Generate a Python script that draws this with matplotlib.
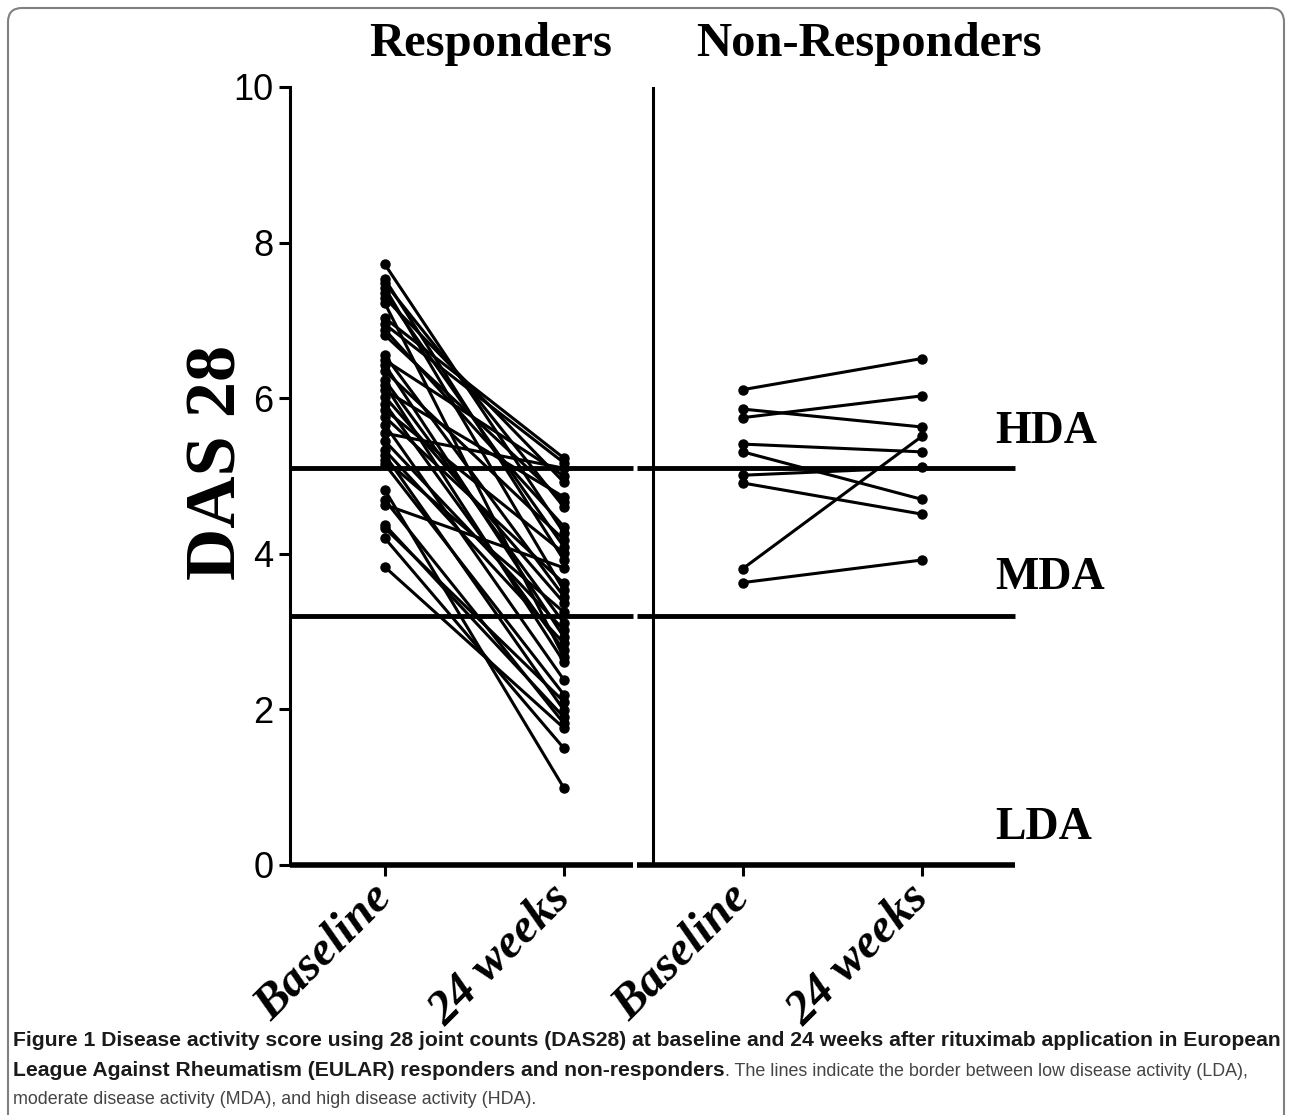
import matplotlib
matplotlib.use("Agg")
import matplotlib.pyplot as plt
from matplotlib.patches import FancyBboxPatch

# DAS28 values, responders (paired baseline -> 24 weeks)
resp_baseline = [7.72, 7.53, 7.48, 7.42, 7.35, 7.29, 7.22, 7.03, 6.95, 6.88, 6.81, 6.55,
                 6.49, 6.43, 6.35, 6.23, 6.17, 6.10, 6.02, 5.93, 5.85, 5.76, 5.66, 5.55,
                 5.45, 5.33, 5.27, 5.21, 5.15, 4.82, 4.69, 4.63, 4.37, 4.33, 4.20, 3.83]
resp_24w = [4.27, 3.92, 4.60, 3.53, 4.09, 4.92, 2.67, 5.23, 5.17, 4.35, 4.67, 3.45,
            5.00, 2.93, 4.18, 3.11, 2.61, 4.73, 3.37, 2.76, 4.01, 3.62, 2.38, 5.10,
            3.02, 2.85, 1.99, 3.25, 2.19, 0.99, 1.82, 3.82, 1.90, 2.10, 1.50, 1.76]

# non-responders
nonresp_baseline = [6.11, 5.86, 5.75, 5.41, 5.31, 5.01, 4.91, 3.81, 3.63]
nonresp_24w = [6.51, 5.63, 6.03, 5.31, 4.70, 5.11, 4.51, 5.51, 3.92]

x_labels = ["Baseline", "24 weeks", "Baseline", "24 weeks"]
group_titles = ["Responders", "Non-Responders"]
y_ticks = [0, 2, 4, 6, 8, 10]
hda_border = 5.1
mda_border = 3.2
zone_labels = ["HDA", "MDA", "LDA"]

W, H = 1292, 1115
fig = plt.figure(figsize=(W / 100, H / 100), dpi=100)
ax = fig.add_axes([290 / W, 1 - 865 / H, 725 / W, 778 / H])

serif = "Liberation Serif"
sans = "Liberation Sans"

for b, w in zip(resp_baseline, resp_24w):
    ax.plot([1, 2], [b, w], color="black", lw=2.2, marker="o", ms=6.5, zorder=3)
for b, w in zip(nonresp_baseline, nonresp_24w):
    ax.plot([3, 4], [b, w], color="black", lw=2.2, marker="o", ms=6.5, zorder=3)

ax.set_xlim(0.47, 4.52)
ax.set_ylim(0, 10)

# border lines, split in two segments like the original graph
gap_l, gap_r = 2.385, 2.41
for yv, lw in [(hda_border, 3.5), (mda_border, 3.5), (0, 4.0)]:
    ax.plot([0.47, gap_l], [yv, yv], color="black", lw=lw, solid_capstyle="butt", clip_on=False, zorder=2)
    ax.plot([gap_r, 4.52], [yv, yv], color="black", lw=lw, solid_capstyle="butt", clip_on=False, zorder=2)
ax.plot([2.5, 2.5], [0, 10], color="black", lw=2.2, zorder=2)

for s in ["top", "right", "bottom"]:
    ax.spines[s].set_visible(False)
ax.spines["left"].set_linewidth(2.2)

ax.set_yticks(y_ticks)
ax.set_yticklabels([str(t) for t in y_ticks], fontsize=26, family=sans)
ax.set_xticks([1, 2, 3, 4])
ax.set_xticklabels(x_labels, rotation=45, ha="right", va="center", rotation_mode="anchor",
                   fontsize=35, family=serif, fontweight="bold", fontstyle="italic")
ax.tick_params(axis="both", length=8, width=2.2, color="black")
ax.tick_params(axis="x", pad=11)
ax.tick_params(axis="y", pad=4)

for lab, yv in zip(zone_labels, [5.57, 3.69, 0.48]):
    ax.text(4.41, yv, lab, fontsize=33, family=serif, fontweight="bold",
            ha="left", va="center", clip_on=False)

fig.text(491 / W, 1 - 44 / H, group_titles[0], fontsize=35, family=serif, fontweight="bold",
         ha="center", va="center")
fig.text(869 / W, 1 - 44 / H, group_titles[1], fontsize=35, family=serif, fontweight="bold",
         ha="center", va="center")
fig.text(218 / W, 1 - 462 / H, "DAS 28", fontsize=52, family=serif, fontweight="bold",
         rotation=90, ha="center", va="center")

# caption
cap_font = sans
line1 = ("Figure 1 Disease activity score using 28 joint counts (DAS28) at baseline and 24 weeks "
         "after rituximab application in European")
line2_bold = "League Against Rheumatism (EULAR) responders and non-responders"
line2_reg = ". The lines indicate the border between low disease activity (LDA),"
line3 = "moderate disease activity (MDA), and high disease activity (HDA)."

renderer = fig.canvas.get_renderer()
t1 = fig.text(13 / W, 1 - 1041 / H, line1, fontsize=16, family=cap_font, fontweight="bold",
              color="#1a1a1a", ha="left", va="center")
w1 = t1.get_window_extent(renderer).width
cap_size = 16 * 1270 / w1
t1.set_fontsize(cap_size)
t2 = fig.text(13 / W, 1 - 1071 / H, line2_bold, fontsize=cap_size, family=cap_font, fontweight="bold",
              color="#1a1a1a", ha="left", va="center")
w2 = t2.get_window_extent(renderer).width
t3 = fig.text((13 + w2) / W, 1 - 1071 / H, line2_reg, fontsize=cap_size, family=cap_font,
              color="#444444", ha="left", va="center")
w3 = t3.get_window_extent(renderer).width
reg_size = min(cap_size, cap_size * (1244 - 13 - w2) / w3)
t3.set_fontsize(reg_size)
fig.text(13 / W, 1 - 1100 / H, line3, fontsize=reg_size, family=cap_font,
         color="#444444", ha="left", va="center")

# frame around the figure
frame = FancyBboxPatch((8, -30), 1276, H - 8 + 30, boxstyle="round,pad=0,rounding_size=14",
                       transform=None, fill=False, edgecolor="#808080", lw=1.5)
fig.patches.append(frame)

fig.savefig("out.png", dpi=100)
